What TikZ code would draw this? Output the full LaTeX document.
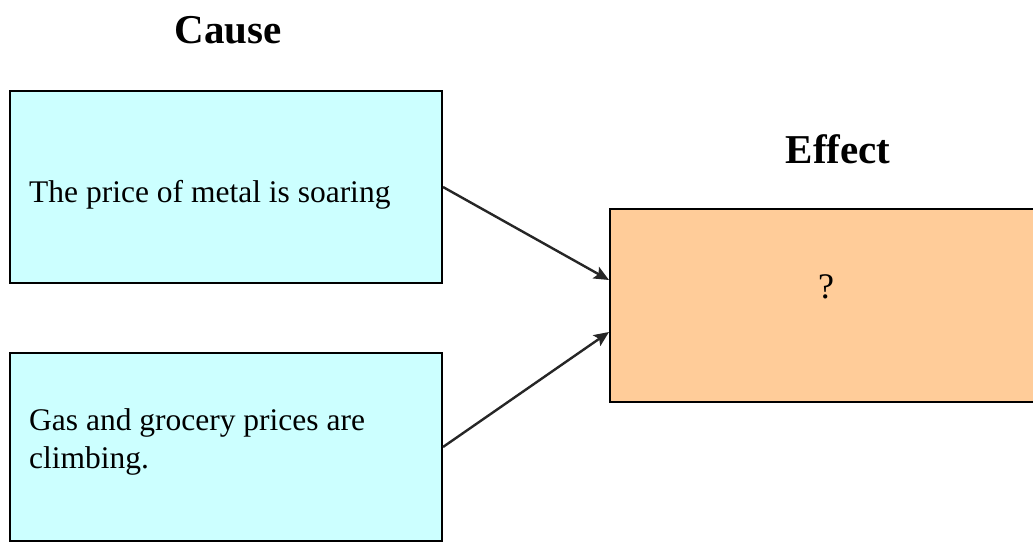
\documentclass[tikz,border=0pt]{standalone}
\usepackage{fontspec}
\setmainfont{Liberation Serif}
\usetikzlibrary{arrows.meta}
\definecolor{causefill}{RGB}{204,255,255}
\definecolor{effectfill}{RGB}{255,204,153}
\begin{document}
\begin{tikzpicture}[x=1pt,y=-1pt,
  box/.style={draw=black, line width=2pt, rectangle, inner sep=0pt},
  causebox/.style={box, fill=causefill, minimum width=432pt},
  effectbox/.style={box, fill=effectfill, minimum width=490pt, minimum height=193pt},
  heading/.style={font=\fontsize{41}{46}\selectfont\bfseries},
  body/.style={font=\fontsize{31.5}{38}\selectfont, align=left, anchor=base west, inner sep=0pt},
  link/.style={draw=black!85, line width=2.4pt, -{Stealth[length=15pt,width=13pt,inset=3pt]}}]
\useasboundingbox (0,0) rectangle (1033,541);
\clip (0,0) rectangle (1033,541);
% cause and effect boxes
\node[causebox, minimum height=192pt] (c1) at (226,187) {};
\node[causebox, minimum height=188pt] (c2) at (226,447) {};
\node[effectbox] (eff) at (855,305.5) {};
% headings
\node[heading] (hc) at (228,30) {Cause};
\node[heading] (he) at (838,149) {Effect};
% box texts
\node[body] (t1) at (29,202) {The price of metal is soaring};
\node[body] (t2) at (29,468) {Gas and grocery prices are\\climbing.};
\node[font=\fontsize{36}{40}\selectfont] (q) at (826,287) {?};
% connectors
\coordinate (e1) at ([yshift=25.5pt]eff.west);
\coordinate (e2) at ([yshift=-26.5pt]eff.west);
\draw[link] (c1.east) -- (e1);
\draw[link] (c2.east) -- (e2);
\end{tikzpicture}
\end{document}
